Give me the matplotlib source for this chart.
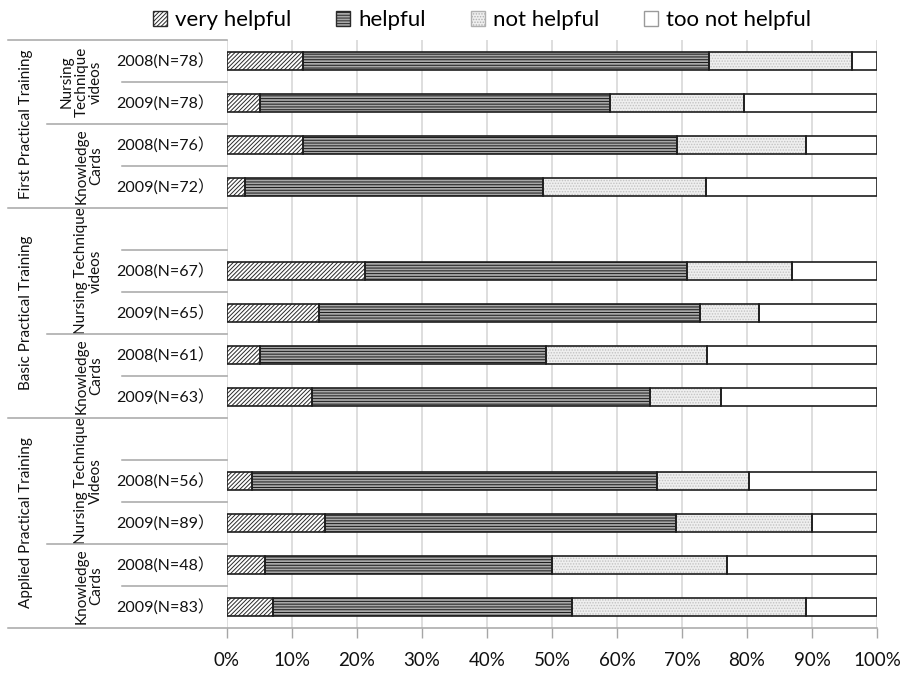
import matplotlib
matplotlib.use("Agg")
import matplotlib.pyplot as plt
import matplotlib.transforms as mtransforms
from matplotlib.patches import Patch

plt.rcParams['font.family'] = ['Lato', 'Noto Sans CJK JP', 'DejaVu Sans']
plt.rcParams['hatch.linewidth'] = 0.7

# ---- data -------------------------------------------------------------
series_names = ["very helpful", "helpful", "not helpful", "too not helpful"]

group_names = ["First Practical Training",
               "Basic Practical Training",
               "Applied Practical Training"]

subgroup_names = [
    ["Nursing\nTechnique\nvideos", "Knowledge\nCards"],
    ["Nursing Technique\nvideos", "Knowledge\nCards"],
    ["Nursing Technique\nVideos", "Knowledge\nCards"],
]

# rows per subgroup; "" is an empty row
subgroup_rows = [
    [["2008(N=78）", "2009(N=78）"], ["2008(N=76）", "2009(N=72）"]],
    [["", "2008(N=67）", "2009(N=65）"], ["2008(N=61）", "2009(N=63）"]],
    [["", "2008(N=56）", "2009(N=89）"], ["2008(N=48）", "2009(N=83）"]],
]

# percentages, one value per labelled row (top to bottom)
very_helpful = [11.7, 5.1, 11.7, 2.7, 21.2, 14.2, 5.0, 13.0, 3.9, 15.0, 5.9, 7.0]
helpful = [62.5, 53.8, 57.6, 45.9, 49.6, 58.6, 44.0, 52.0, 62.3, 54.0, 44.1, 46.1]
not_helpful = [21.9, 20.6, 19.8, 25.1, 16.1, 9.1, 24.9, 11.0, 14.1, 21.0, 26.9, 36.0]
too_not_helpful = [3.9, 20.5, 10.9, 26.3, 13.1, 18.1, 26.1, 24.0, 19.7, 10.0, 23.1, 10.9]

tick_values = list(range(0, 101, 10))
tick_labels = [f"{v}%" for v in tick_values]

# ---- styles -----------------------------------------------------------
styles = [
    dict(face="white", hatch="////////", hcol="#2a2a2a"),
    dict(face="#a8a8a8", hatch="------", hcol="#1a1a1a"),
    dict(face="#efefef", hatch="......", hcol="#c2c2c2"),
    dict(face="white", hatch=None, hcol="white"),
]
line_col = "#a6a6a6"
grid_col = "#d4d4d4"

# ---- layout -----------------------------------------------------------
W, H = 902, 673
fig = plt.figure(figsize=(W / 100, H / 100), dpi=100)
ax_left, ax_right, ax_top, ax_bot = 227, 877, 40, 628
ax = fig.add_axes([ax_left / W, 1 - ax_bot / H,
                   (ax_right - ax_left) / W, (ax_bot - ax_top) / H])

def px_to_axfrac(px):
    return (px - ax_left) / (ax_right - ax_left)

# build slot positions from the grouping structure
row_slot, row_text = [], []
boundaries = []          # (slot boundary, left pixel)
group_spans, sub_spans = [], []
slot = 0
for gi, subs in enumerate(subgroup_rows):
    g_start = slot
    boundaries.append((slot, 8))
    for si, rows in enumerate(subs):
        s_start = slot
        if si > 0:
            boundaries.append((slot, 47))
        for ri, lab in enumerate(rows):
            if ri > 0:
                boundaries.append((slot, 122))
            if lab:
                row_slot.append(slot)
                row_text.append(lab)
            slot += 1
        sub_spans.append((subgroup_names[gi][si], s_start, slot))
    group_spans.append((group_names[gi], g_start, slot))
boundaries.append((slot, 8))
n_slots = slot

ax.set_ylim(n_slots - 0.5, -0.5)
ax.set_xlim(0, 100)

# gridlines
for v in tick_values:
    ax.axvline(v, color=grid_col, lw=1.1, zorder=0)

# stacked bars
values = [very_helpful, helpful, not_helpful, too_not_helpful]
left = [0.0] * len(row_slot)
bar_h = 0.43
for vals, st in zip(values, styles):
    ax.barh(row_slot, vals, left=left, height=bar_h, color=st["face"],
            hatch=st["hatch"], edgecolor=st["hcol"], linewidth=0, zorder=2)
    ax.barh(row_slot, vals, left=left, height=bar_h, fill=False,
            edgecolor="#1e1e1e", linewidth=1.2, zorder=3)
    left = [l + v for l, v in zip(left, vals)]

# axes cosmetics
for s in ax.spines.values():
    s.set_visible(False)
ax.set_yticks([])
ax.set_xticks(tick_values)
ax.set_xticklabels(tick_labels, fontsize=13.5)
ax.tick_params(axis="x", length=7, width=1.0, color=line_col, pad=10,
               labelcolor="#111111")

# category frame lines on the left
trans = mtransforms.blended_transform_factory(ax.transAxes, ax.transData)
for b, px in boundaries:
    x1 = 1.0 if b == n_slots else 0.0
    ax.plot([px_to_axfrac(px), x1], [b - 0.5, b - 0.5], color=line_col,
            lw=1.1, transform=trans, clip_on=False, zorder=4)

# category labels
for s, lab in zip(row_slot, row_text):
    ax.text(px_to_axfrac(165), s, lab, transform=trans, ha="center",
            va="center", fontsize=11.5, color="#111111")
for lab, a, b in sub_spans:
    ax.text(px_to_axfrac(103), (a + b - 1) / 2, lab, transform=trans,
            rotation=90, ha="right", va="center", multialignment="center",
            fontsize=11, color="#111111", linespacing=1.05)
for lab, a, b in group_spans:
    ax.text(px_to_axfrac(26), (a + b - 1) / 2, lab, transform=trans,
            rotation=90, ha="center", va="center", fontsize=11,
            color="#111111")

# legend entries along the top
legend_x = [153, 336, 471, 644]
for name, st, lx in zip(series_names, styles, legend_x):
    if name == "not helpful":
        edge = "#b0b0b0"
    elif name == "too not helpful":
        edge = "#9a9a9a"
    else:
        edge = "#2a2a2a"
    h = Patch(facecolor=st["face"], hatch=st["hatch"], edgecolor=edge)
    fig.legend([h], [name], loc="center left",
               bbox_to_anchor=(lx / W, 1 - 20 / H), frameon=False,
               fontsize=16, handlelength=0.65, handleheight=0.65,
               handletextpad=0.35, borderpad=0, borderaxespad=0)

fig.savefig("out.png", dpi=100)
